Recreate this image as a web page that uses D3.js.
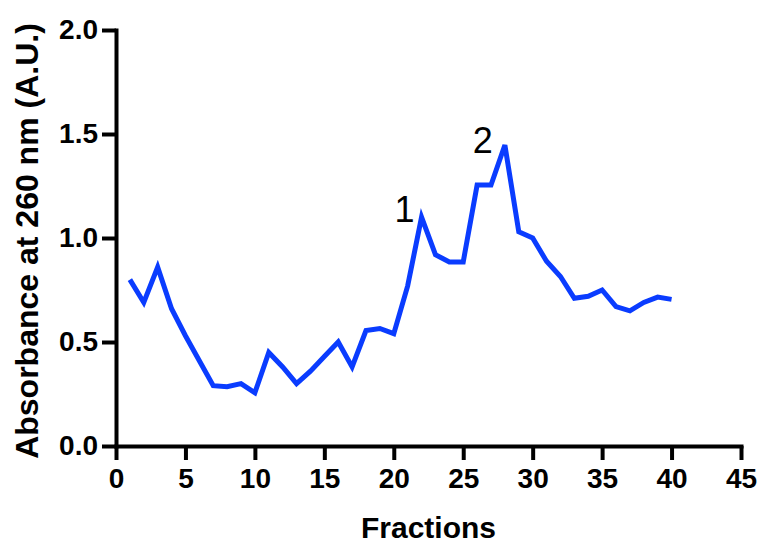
<!DOCTYPE html>
<html>
<head>
<meta charset="utf-8">
<script src="https://cdn.jsdelivr.net/npm/d3@7"></script>
<style>
  body { margin: 0; background: #fff; }
  svg { display: block; font-family: "Liberation Sans", Arial, Helvetica, sans-serif; }
</style>
</head>
<body>
<svg></svg>
<script>
var svgWidth = 760, svgHeight = 546;

// fraction numbers and absorbance readings
var fractions = [1, 2, 3, 4, 5, 6, 7, 8, 9, 10,
                 11, 12, 13, 14, 15, 16, 17, 18, 19, 20,
                 21, 22, 23, 24, 25, 26, 27, 28, 29, 30,
                 31, 32, 33, 34, 35, 36, 37, 38, 39, 40];
var absorbance = [0.80, 0.69, 0.86, 0.66, 0.53, 0.41, 0.29, 0.285, 0.30, 0.256,
                  0.45, 0.38, 0.30, 0.36, 0.43, 0.50, 0.38, 0.555, 0.565, 0.54,
                  0.77, 1.10, 0.92, 0.885, 0.885, 1.255, 1.255, 1.447, 1.03, 1.00,
                  0.888, 0.815, 0.71, 0.72, 0.75, 0.67, 0.65, 0.69, 0.716, 0.705];

var xTicks = [0, 5, 10, 15, 20, 25, 30, 35, 40, 45];
var yTicks = [0, 0.5, 1.0, 1.5, 2.0];

// peaks that get a number next to them
var peakFractions = [22, 28];
var peakNames = ["1", "2"];

var svg = d3.select("svg")
            .attr("width", svgWidth)
            .attr("height", svgHeight);

var x = d3.scaleLinear().domain([0, 45]).range([116, 741]);
var y = d3.scaleLinear().domain([0, 2]).range([446, 30]);

var data = fractions.map(function(f, i) {
    return { fraction: f, value: absorbance[i] };
});

// axes
var xAxis = svg.append("g")
    .attr("transform", "translate(0," + y(0) + ")")
    .call(d3.axisBottom(x).tickValues(xTicks).tickSize(14).tickSizeOuter(0).tickPadding(8)
            .tickFormat(d3.format("d")));

var yAxis = svg.append("g")
    .attr("transform", "translate(" + x(0) + ",0)")
    .call(d3.axisLeft(y).tickValues(yTicks).tickSize(14).tickSizeOuter(0).tickPadding(4)
            .tickFormat(d3.format(".1f")));

[xAxis, yAxis].forEach(function(ax) {
    ax.select(".domain").attr("stroke", "#000").attr("stroke-width", 4).attr("stroke-linecap", "square");
    ax.selectAll(".tick line").attr("stroke", "#000").attr("stroke-width", 4);
    ax.selectAll(".tick text")
        .attr("fill", "#000")
        .style("font-size", "28px")
        .style("font-weight", "bold")
        .style("font-family", "'Liberation Sans', Arial, sans-serif");
});

// axis titles
svg.append("text")
    .attr("x", (x.range()[0] + x.range()[1]) / 2)
    .attr("y", 538)
    .attr("text-anchor", "middle")
    .style("font-size", "30px")
    .style("font-weight", "bold")
    .text("Fractions");

svg.append("text")
    .attr("transform", "translate(38," + 241 + ") rotate(-90)")
    .attr("text-anchor", "middle")
    .style("font-size", "32px")
    .style("font-weight", "bold")
    .text("Absorbance at 260 nm (A.U.)");

// the elution profile
var line = d3.line()
    .x(function(d) { return x(d.fraction); })
    .y(function(d) { return y(d.value); });

svg.append("path")
    .datum(data)
    .attr("d", line)
    .attr("fill", "none")
    .attr("stroke", "#0a3cff")
    .attr("stroke-width", 5)
    .attr("stroke-linejoin", "miter");

// peak numbers, sitting just left of each peak
var labelOffsets = [[-17, 5], [-22, 8]];
svg.selectAll(".peak")
    .data(peakFractions)
    .enter().append("text")
        .attr("class", "peak")
        .attr("x", function(f, i) { return x(f) + labelOffsets[i][0]; })
        .attr("y", function(f, i) { return y(absorbance[fractions.indexOf(f)]) + labelOffsets[i][1]; })
        .attr("text-anchor", "middle")
        .style("font-size", "36px")
        .text(function(f, i) { return peakNames[i]; });
</script>
</body>
</html>
